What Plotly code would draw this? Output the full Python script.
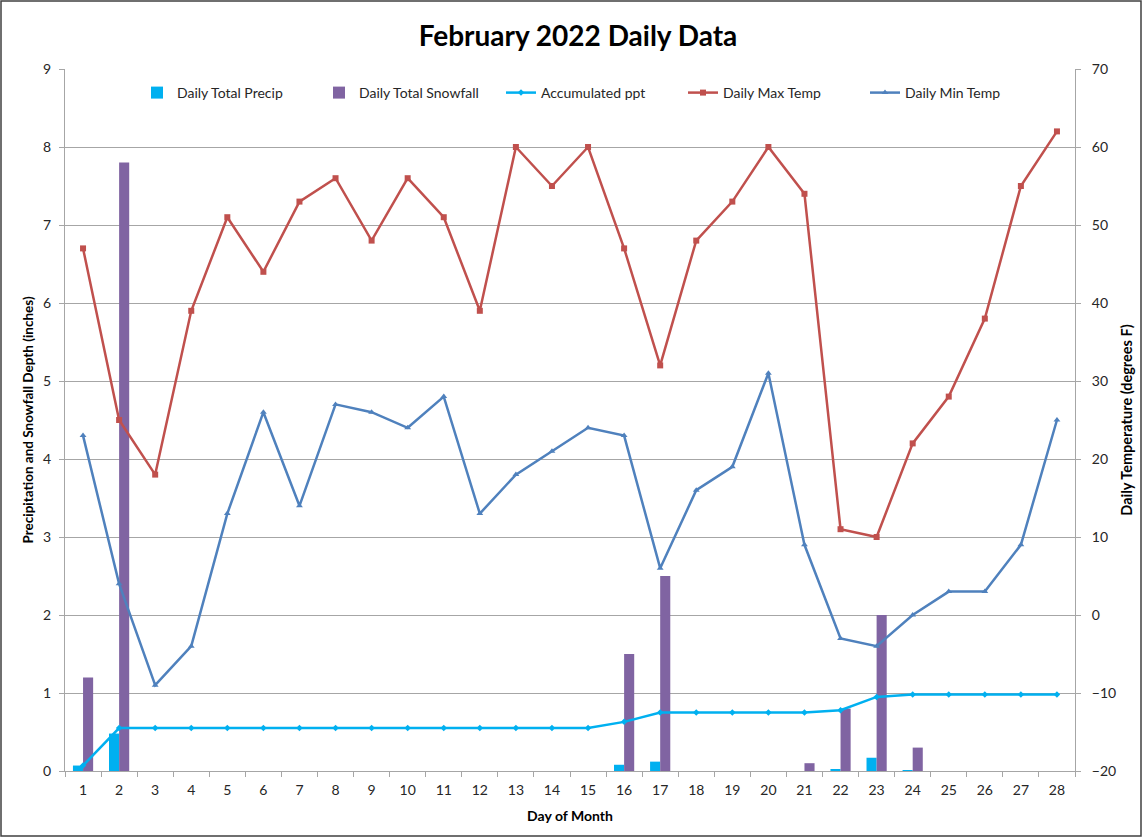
import plotly.graph_objects as go

days = list(range(1, 29))
precip = [0.07, 0.48, 0, 0, 0, 0, 0, 0, 0, 0, 0, 0, 0, 0, 0, 0.08, 0.12, 0, 0, 0, 0, 0.02, 0.17, 0.01, 0, 0, 0, 0]
snowfall = [1.2, 7.8, 0, 0, 0, 0, 0, 0, 0, 0, 0, 0, 0, 0, 0, 1.5, 2.5, 0, 0, 0, 0.1, 0.8, 2.0, 0.3, 0, 0, 0, 0]
accum = [0.07, 0.55, 0.55, 0.55, 0.55, 0.55, 0.55, 0.55, 0.55, 0.55, 0.55, 0.55, 0.55, 0.55, 0.55,
         0.63, 0.75, 0.75, 0.75, 0.75, 0.75, 0.78, 0.95, 0.98, 0.98, 0.98, 0.98, 0.98]
max_temp = [47, 25, 18, 39, 51, 44, 53, 56, 48, 56, 51, 39, 60, 55, 60, 47, 32, 48, 53, 60, 54, 11, 10, 22, 28, 38, 55, 62]
min_temp = [23, 4, -9, -4, 13, 26, 14, 27, 26, 24, 28, 13, 18, 21, 24, 23, 6, 16, 19, 31, 9, -3, -4, 0, 3, 3, 9, 25]

FONT = "Lato"
W, H = 1143, 838
L, R, T, B = 65, 68, 69, 67
pw, ph = W - L - R, H - T - B

fig = go.Figure()
fig.add_trace(go.Bar(x=days, y=precip, name="Daily Total Precip", marker=dict(color="#00B0F0", line_width=0)))
fig.add_trace(go.Bar(x=days, y=snowfall, name="Daily Total Snowfall", marker=dict(color="#8064A2", line_width=0)))
fig.add_trace(go.Scatter(x=days, y=accum, name="Accumulated ppt", mode="lines+markers",
                         line=dict(color="#00B0F0", width=2.5), marker=dict(symbol="diamond", size=5, color="#00B0F0")))
fig.add_trace(go.Scatter(x=days, y=max_temp, name="Daily Max Temp", mode="lines+markers", yaxis="y2",
                         line=dict(color="#C0504D", width=2.5), marker=dict(symbol="square", size=6, color="#C0504D")))
fig.add_trace(go.Scatter(x=days, y=min_temp, name="Daily Min Temp", mode="lines+markers", yaxis="y2",
                         line=dict(color="#4F81BD", width=2.5), marker=dict(symbol="triangle-up", size=6, color="#4F81BD")))

fig.update_layout(
    width=W, height=H,
    margin=dict(l=L, r=R, t=T, b=B),
    paper_bgcolor="white", plot_bgcolor="white",
    font=dict(family=FONT, size=14, color="#262626"),
    title=dict(text="<b>February 2022 Daily Data</b>", x=578 / W, xanchor="center", y=1 - 36 / H, yanchor="middle",
               font=dict(size=28, color="black", family=FONT)),
    barmode="group", bargap=0.44, bargroupgap=0,
    showlegend=True,
    legend=dict(orientation="h", x=72 / pw, xanchor="left", y=1 - 24 / ph, yanchor="middle",
                font=dict(size=14, color="#262626"), bgcolor="rgba(0,0,0,0)", entrywidth=137,
                entrywidthmode="pixels", itemwidth=30, tracegroupgap=0),
    xaxis=dict(range=[0.5, 28.5], tickvals=days, ticks="", showgrid=False, showline=True, linecolor="#A6A6A6",
               linewidth=1, zeroline=False, ticklabelstandoff=6,
               minor=dict(tick0=0.5, dtick=1, ticks="outside", ticklen=5, tickcolor="#A6A6A6", showgrid=False),
               title=dict(text="<b>Day of Month</b>", font=dict(size=14, color="black"), standoff=14)),
    yaxis=dict(range=[0, 9], dtick=1, showgrid=True, gridcolor="#A6A6A6", gridwidth=1, showline=True,
               linecolor="#A6A6A6", ticks="outside", ticklen=5, tickcolor="#A6A6A6", zeroline=False,
               ticklabelstandoff=5,
               title=dict(text="<b>Precipitation and Snowfall Depth (inches)</b>", font=dict(size=13.5, color="black"),
                          standoff=6)),
    yaxis2=dict(range=[-20, 70], dtick=10, overlaying="y", side="right", showgrid=False, showline=True,
                linecolor="#A6A6A6", ticks="outside", ticklen=5, tickcolor="#A6A6A6", zeroline=False,
                ticklabelstandoff=8,
                title=dict(text="<b>Daily Temperature (degrees F)</b>", font=dict(size=14.5, color="black"),
                           standoff=6)),
    shapes=[dict(type="rect", xref="paper", yref="paper",
                 x0=-(L - 1) / pw, x1=1 + (R - 2) / pw, y0=-(B - 2) / ph, y1=1 + (T - 1) / ph,
                 line=dict(color="#404040", width=1.5), fillcolor="rgba(0,0,0,0)", layer="below")],
)

fig.write_html("out.html", config={"displayModeBar": False},
               post_script="document.body.style.margin='0';document.body.style.overflow='hidden';")
